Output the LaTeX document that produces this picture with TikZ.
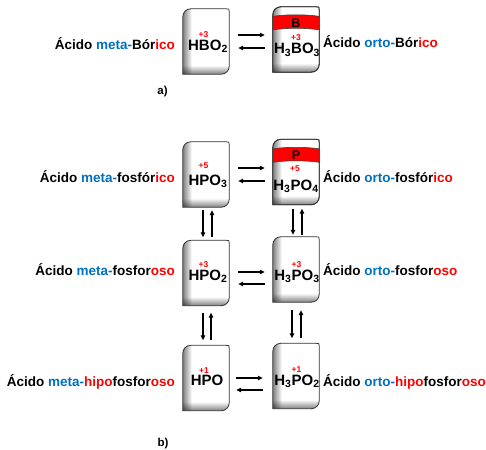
\documentclass[tikz,border=0pt]{standalone}
\usepackage{fontspec}
\setmainfont{Liberation Sans}
\usetikzlibrary{arrows.meta,calc}
\definecolor{metablue}{RGB}{0,112,192}
\definecolor{oxred}{RGB}{255,0,0}
\newcommand\bl[1]{\textcolor{metablue}{#1}}
\newcommand\rd[1]{\textcolor{oxred}{#1}}
\tikzset{
  boxnode/.style={minimum width=46pt, minimum height=65pt, inner sep=0pt, draw=none},
  lab/.style={font=\fontsize{13.5}{16}\selectfont\bfseries, inner sep=0pt},
  form/.style={font=\fontsize{15}{18}\selectfont\bfseries, inner sep=0pt, anchor=base},
  ox/.style={font=\fontsize{8.5}{10}\selectfont\bfseries, text=oxred, inner sep=0pt},
  bandlab/.style={font=\fontsize{12.5}{14}\selectfont\bfseries, inner sep=0pt},
  part/.style={font=\fontsize{11.5}{13}\selectfont\bfseries, inner sep=0pt},
  arr/.style={line width=1.1pt, -{Triangle[length=5pt,width=4.6pt]}},
  boxline/.style={draw=black!80, line width=0.8pt},
  boxshape/.style={insert path={
    (#1.south west) -- ([yshift=-8pt]#1.north west)
    .. controls ([yshift=-3.5pt]#1.north west) and ([xshift=3.5pt]#1.north west) .. ([xshift=8pt]#1.north west)
    -- ([xshift=-3pt]#1.north east) .. controls (#1.north east) .. ([yshift=-3pt]#1.north east)
    -- ([yshift=8pt]#1.south east)
    .. controls ([yshift=3.5pt]#1.south east) and ([xshift=-3.5pt]#1.south east) .. ([xshift=-8pt]#1.south east)
    -- cycle}},
}
\newcommand\acidbox[3]{%
  \node[boxnode] (#1) at (#2,-#3) {};
  \begin{scope}
    \clip[boxshape=#1];
    \fill[white] (#1.south west) rectangle (#1.north east);
    \shade[left color=black!50, right color=white] (#1.south west) rectangle ([xshift=9pt]#1.north west);
    \shade[top color=white, bottom color=black!50, blend mode=multiply] ([yshift=9pt]#1.south west) rectangle (#1.south east);
  \end{scope}
  \draw[boxline] [boxshape=#1];
}
\newcommand\bandbox[4]{%
  \acidbox{#1}{#2}{#3}%
  \begin{scope}
    \clip[boxshape=#1];
    \fill[oxred] ([yshift=-9.5pt]#1.north west)
      .. controls ([xshift=14pt,yshift=-7.5pt]#1.north west) and ([xshift=-14pt,yshift=-7.5pt]#1.north east) .. ([yshift=-9.5pt]#1.north east)
      -- ([yshift=-23pt]#1.north east)
      .. controls ([xshift=-14pt,yshift=-21pt]#1.north east) and ([xshift=14pt,yshift=-21pt]#1.north west) .. ([yshift=-23pt]#1.north west)
      -- cycle;
    \draw[black!75, line width=0.6pt] ([yshift=-9.5pt]#1.north west)
      .. controls ([xshift=14pt,yshift=-7.5pt]#1.north west) and ([xshift=-14pt,yshift=-7.5pt]#1.north east) .. ([yshift=-9.5pt]#1.north east);
    \draw[black!75, line width=0.6pt] ([yshift=-23pt]#1.north east)
      .. controls ([xshift=-14pt,yshift=-21pt]#1.north east) and ([xshift=14pt,yshift=-21pt]#1.north west) .. ([yshift=-23pt]#1.north west);
  \end{scope}
  \draw[boxline] [boxshape=#1];
  \node[bandlab] (#1b) at ([yshift=-16pt]#1.north) {#4};
}
\begin{document}
\begin{tikzpicture}[x=1pt, y=1pt]
\useasboundingbox (0,0) rectangle (486,-449);

% ---------- a) ----------
\acidbox{La}{206}{41.5}
\bandbox{Ra}{296}{39.5}{B}
\node[form] (fLa) at (208,-50.5) {HBO\textsubscript{2}};
\node[form] (fRa) at (297,-54) {H\textsubscript{3}BO\textsubscript{3}};
\node[ox] (oLa) at (203.5,-35) {+3};
\node[ox] (oRa) at (296,-38) {+3};
\node[lab, anchor=base east] (tLa) at (175,-49.3) {Ácido \bl{meta-}Bór\rd{ico}};
\node[lab, anchor=base west] (tRa) at (323,-48) {Ácido \bl{orto-}Bór\rd{ico}};
\draw[arr, shorten <=9pt, shorten >=8pt] ([yshift=6.5pt]La.east) -- ([yshift=6.5pt]La.east -| Ra.west);
\draw[arr, shorten <=8pt, shorten >=9pt] ([yshift=-6.5pt]La.east -| Ra.west) -- ([yshift=-6.5pt]La.east);
\node[part] (pa) at (162.5,-91.3) {a)};

% ---------- b) row 1 ----------
\acidbox{L1}{206}{174.5}
\bandbox{R1}{296}{172}{P}
\node[form] (fL1) at (208,-185) {HPO\textsubscript{3}};
\node[form] (fR1) at (296,-190) {H\textsubscript{3}PO\textsubscript{4}};
\node[ox] (oL1) at (203.5,-166) {+5};
\node[ox] (oR1) at (295,-169) {+5};
\node[lab, anchor=base east] (tL1) at (175,-182) {Ácido \bl{meta-}fosfór\rd{ico}};
\node[lab, anchor=base west] (tR1) at (323,-182) {Ácido \bl{orto-}fosfór\rd{ico}};
\draw[arr, shorten <=9pt, shorten >=8pt] ([yshift=6.5pt]L1.east) -- ([yshift=6.5pt]L1.east -| R1.west);
\draw[arr, shorten <=8pt, shorten >=9pt] ([yshift=-6.5pt]L1.east -| R1.west) -- ([yshift=-6.5pt]L1.east);

% ---------- b) row 2 ----------
\acidbox{L2}{206}{273}
\acidbox{R2}{296}{269.5}
\node[form] (fL2) at (208,-280.5) {HPO\textsubscript{2}};
\node[form] (fR2) at (297,-280.5) {H\textsubscript{3}PO\textsubscript{3}};
\node[ox] (oL2) at (203.5,-265) {+3};
\node[ox] (oR2) at (296.5,-265) {+3};
\node[lab, anchor=base east] (tL2) at (175,-275) {Ácido \bl{meta-}fosfor\rd{oso}};
\node[lab, anchor=base west] (tR2) at (323,-275) {Ácido \bl{orto-}fosfor\rd{oso}};
\draw[arr, shorten <=9pt, shorten >=8pt] ([yshift=1pt]L2.east) -- ([yshift=1pt]L2.east -| R2.west);
\draw[arr, shorten <=8pt, shorten >=9pt] ([yshift=-11pt]L2.east -| R2.west) -- ([yshift=-11pt]L2.east);

% ---------- b) row 3 ----------
\acidbox{L3}{206}{378}
\acidbox{R3}{296}{376}
\node[form] (fL3) at (207,-385) {HPO};
\node[form] (fR3) at (297,-385) {H\textsubscript{3}PO\textsubscript{2}};
\node[ox] (oL3) at (204,-371) {+1};
\node[ox] (oR3) at (296.5,-370) {+1};
\node[lab, anchor=base east] (tL3) at (175,-386) {Ácido \bl{meta-}\rd{hipo}fosfor\rd{oso}};
\node[lab, anchor=base west] (tR3) at (323,-386) {Ácido \bl{orto-}\rd{hipo}fosfor\rd{oso}};
\draw[arr, shorten <=7pt, shorten >=10pt] ([yshift=0pt]L3.east) -- ([yshift=0pt]L3.east -| R3.west);
\draw[arr, shorten <=10pt, shorten >=7pt] ([yshift=-12pt]L3.east -| R3.west) -- ([yshift=-12pt]L3.east);

% ---------- vertical equilibria ----------
\draw[arr, shorten <=3pt, shorten >=3pt] ([xshift=-3pt]L1.south) -- ([xshift=-3pt]L2.north);
\draw[arr, shorten <=3pt, shorten >=3pt] ([xshift=6pt]L2.north) -- ([xshift=6pt]L1.south);
\draw[arr, shorten <=4pt, shorten >=2pt] ([xshift=-3pt]R1.south) -- ([xshift=-3pt]R2.north);
\draw[arr, shorten <=2pt, shorten >=4pt] ([xshift=6pt]R2.north) -- ([xshift=6pt]R1.south);
\draw[arr, shorten <=7pt, shorten >=5pt] ([xshift=-3pt]L2.south) -- ([xshift=-3pt]L3.north);
\draw[arr, shorten <=5pt, shorten >=7pt] ([xshift=5pt]L3.north) -- ([xshift=5pt]L2.south);
\draw[arr, shorten <=8pt, shorten >=5pt] ([xshift=-4pt]R2.south) -- ([xshift=-4pt]R3.north);
\draw[arr, shorten <=5pt, shorten >=8pt] ([xshift=5pt]R3.north) -- ([xshift=5pt]R2.south);

\node[part] (pb) at (163,-443.5) {b)};
\end{tikzpicture}
\end{document}
